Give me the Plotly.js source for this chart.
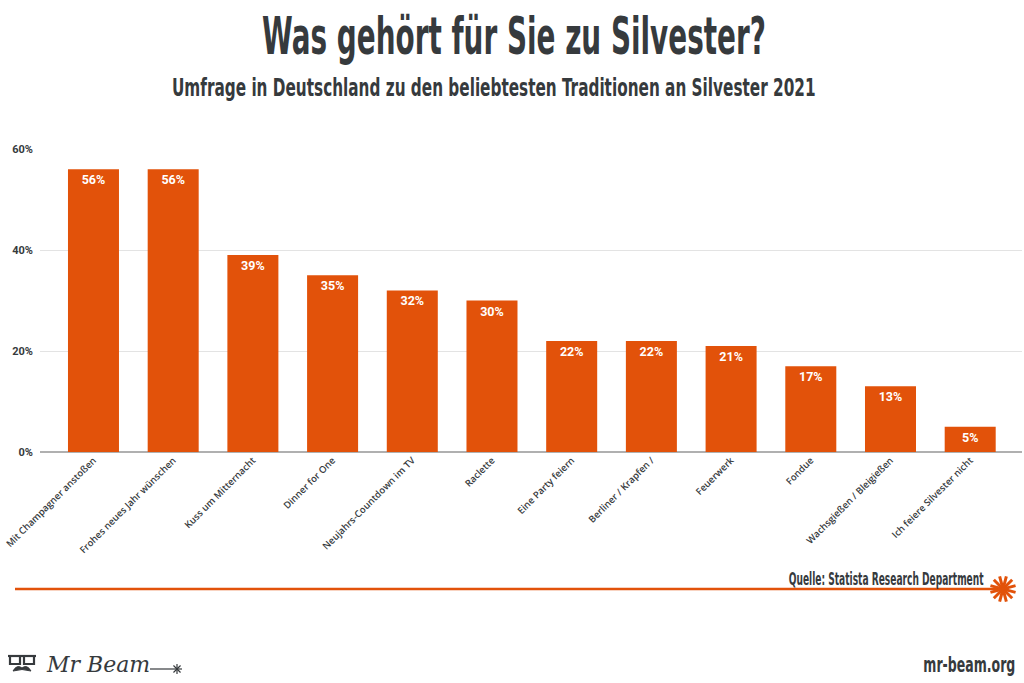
<!DOCTYPE html>
<html>
<head>
<meta charset="utf-8">
<script src="https://cdn.plot.ly/plotly-3.0.1.min.js"></script>
<style>
  html, body { margin: 0; padding: 0; background: #fff; }
  #chart { width: 1024px; height: 683px; }
</style>
</head>
<body>
<div id="chart"></div>
<script>
const categories = [
  "Mit Champagner anstoßen",
  "Frohes neues Jahr wünschen",
  "Kuss um Mitternacht",
  "Dinner for One",
  "Neujahrs-Countdown im TV",
  "Raclette",
  "Eine Party feiern",
  "Berliner / Krapfen /",
  "Feuerwerk",
  "Fondue",
  "Wachsgießen / Bleigießen",
  "Ich feiere Silvester nicht"
];
const values = [56, 56, 39, 35, 32, 30, 22, 22, 21, 17, 13, 5];
const valueLabels = values.map(v => v + "%");
const yTickVals = [0, 20, 40, 60];
const yTickText = ["0%", "20%", "40%", "60%"];

const W = 1024, H = 683;
const L = 40, R = 2, T = 149, B = 231;
const PW = W - L - R, PH = H - T - B;
const px = x => (x - L) / PW;
const py = y => (H - B - y) / PH;

const orange = "#E2520A";
const dark = "#363a3d";
const condensed = "'DejaVu Sans Condensed', 'DejaVu Sans', sans-serif";

const shapes = [];
// source line
shapes.push({type: "line", xref: "paper", yref: "paper",
  x0: px(15), x1: px(998), y0: py(589), y1: py(589),
  line: {color: orange, width: 2.5}});
// star burst
const cx = 1003, cy = 589, rad = 13;
for (let i = 0; i < 6; i++) {
  const a = i * Math.PI / 6 + Math.PI / 12;
  shapes.push({type: "line", xref: "paper", yref: "paper",
    x0: px(cx - rad * Math.cos(a)), x1: px(cx + rad * Math.cos(a)),
    y0: py(cy - rad * Math.sin(a)), y1: py(cy + rad * Math.sin(a)),
    line: {color: orange, width: 3}});
}
// logo glasses
shapes.push({type: "rect", xref: "paper", yref: "paper",
  x0: px(10), x1: px(20), y0: py(656), y1: py(664), line: {color: dark, width: 2.2}});
shapes.push({type: "rect", xref: "paper", yref: "paper",
  x0: px(24), x1: px(34), y0: py(656), y1: py(664), line: {color: dark, width: 2.2}});
shapes.push({type: "line", xref: "paper", yref: "paper",
  x0: px(8), x1: px(36), y0: py(656), y1: py(656), line: {color: dark, width: 2.2}});
// moustache
shapes.push({type: "path", xref: "paper", yref: "paper",
  path: `M ${px(13)} ${py(671)} Q ${px(17)} ${py(664)} ${px(22)} ${py(668)} Q ${px(27)} ${py(664)} ${px(31)} ${py(671)} Q ${px(22)} ${py(668)} ${px(13)} ${py(671)} Z`,
  fillcolor: dark, line: {color: dark, width: 1}});
// logo underline
shapes.push({type: "line", xref: "paper", yref: "paper",
  x0: px(150), x1: px(172), y0: py(669), y1: py(669), line: {color: dark, width: 1.2}});
// small logo star
for (let i = 0; i < 4; i++) {
  const a = i * Math.PI / 4;
  shapes.push({type: "line", xref: "paper", yref: "paper",
    x0: px(177 - 5 * Math.cos(a)), x1: px(177 + 5 * Math.cos(a)),
    y0: py(669 - 5 * Math.sin(a)), y1: py(669 + 5 * Math.sin(a)),
    line: {color: dark, width: 1.2}});
}

const annotations = [
  {text: "Quelle: Statista Research Department", xref: "paper", yref: "paper",
   x: px(885.5), y: py(579), xanchor: "center", yanchor: "middle", showarrow: false,
   font: {family: condensed, size: 17, color: dark, weight: 700}},
  {text: "mr-beam.org", xref: "paper", yref: "paper",
   x: px(969), y: py(665), xanchor: "center", yanchor: "middle", showarrow: false,
   font: {family: condensed, size: 21, color: dark, weight: 700}},
  {text: "<i>Mr Beam</i>", xref: "paper", yref: "paper",
   x: px(44), y: py(664), xanchor: "left", yanchor: "middle", showarrow: false,
   font: {family: "'DejaVu Serif', serif", size: 22, color: dark}},
  {text: "Umfrage in Deutschland zu den beliebtesten Traditionen an Silvester 2021", xref: "paper", yref: "paper",
   x: px(494), y: py(88), xanchor: "center", yanchor: "middle", showarrow: false,
   font: {family: condensed, size: 24, color: dark, weight: 700}}
];
// target visual widths (px) to emulate the narrow display face
const squeezeWidths = {0: 195, 1: 92, 3: 644};
const titleWidth = 504;

const trace = {
  type: "bar",
  x: categories,
  y: values,
  text: valueLabels,
  textposition: "inside",
  insidetextanchor: "end",
  textangle: 0,
  textfont: {family: "Roboto, 'Open Sans', sans-serif", size: 12.5, color: "#ffffff", weight: 700},
  marker: {color: orange},
  hoverinfo: "skip",
  cliponaxis: false
};

const layout = {
  width: W, height: H,
  margin: {l: L, r: R, t: T, b: B, pad: 0},
  paper_bgcolor: "#ffffff",
  plot_bgcolor: "#ffffff",
  title: {text: "Was gehört für Sie zu Silvester?", x: px(514), xref: "paper", xanchor: "center",
          y: 1 - 36 / H, yref: "container", yanchor: "middle",
          font: {family: condensed, size: 52, color: dark, weight: 700}},
  bargap: 0.36,
  showlegend: false,
  xaxis: {
    type: "category",
    range: [-0.671, 11.65],
    tickangle: -45,
    showgrid: false,
    ticks: "",
    showline: false,
    zeroline: false,
    tickfont: {family: "'Open Sans', Roboto, sans-serif", size: 9.5, color: dark, weight: 600},
    automargin: false
  },
  yaxis: {
    range: [0, 60],
    tickvals: yTickVals,
    ticktext: yTickText,
    showgrid: true,
    gridcolor: "#e3e3e3",
    gridwidth: 1,
    zeroline: true,
    zerolinecolor: "#b0b0b0",
    zerolinewidth: 2,
    ticks: "",
    ticklabelstandoff: 6,
    tickfont: {family: "Roboto, 'Open Sans', sans-serif", size: 11, color: dark, weight: 700},
    automargin: false,
    fixedrange: true
  },
  shapes: shapes,
  annotations: annotations
};

// horizontally compress a text element about its own centre (emulates a condensed face)
function squeeze(el, w) {
  if (!el) return;
  const bb = el.getBBox();
  if (!bb.width) return;
  const s = w / bb.width;
  const c = bb.x + bb.width / 2;
  const prev = el.getAttribute("transform") || "";
  el.setAttribute("transform", `${prev} translate(${c},0) scale(${s},1) translate(${-c},0)`);
}

Plotly.newPlot("chart", [trace], layout, {displayModeBar: false, staticPlot: true}).then(gd => {
  squeeze(gd.querySelector("text.gtitle"), titleWidth);
  Object.keys(squeezeWidths).forEach(i => {
    const g = gd.querySelector(`g.annotation[data-index="${i}"] text.annotation-text`);
    squeeze(g, squeezeWidths[i]);
  });
});
</script>
</body>
</html>
